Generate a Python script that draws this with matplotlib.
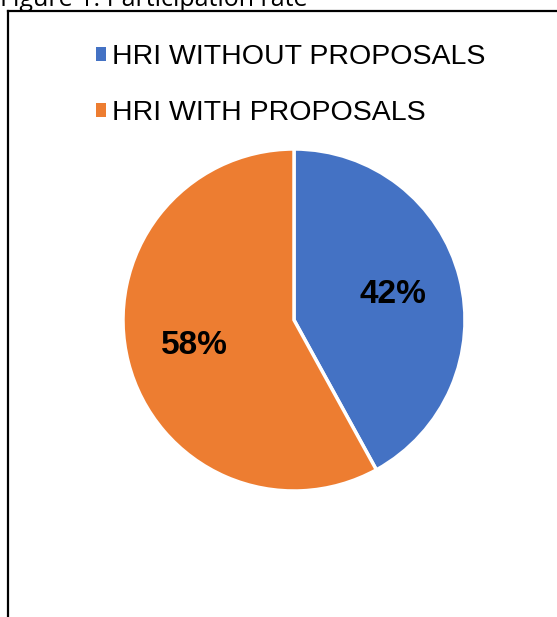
import matplotlib
matplotlib.use('Agg')
import matplotlib.pyplot as plt
from matplotlib.patches import Patch
from matplotlib.lines import Line2D

# data
labels = ['HRI WITHOUT PROPOSALS', 'HRI WITH PROPOSALS']
shares = [42, 58]
colors = ['#4472C4', '#ED7D31']
title = 'Figure 1: Participation rate'

plt.rcParams['font.family'] = ['Liberation Sans', 'DejaVu Sans']

W, H = 557, 617
fig = plt.figure(figsize=(W / 100, H / 100), dpi=100)

# title, cut off at the top like in the source
fig.text(0.0, 1 - 6 / H, title, fontsize=18, family='Open Sans', va='baseline', ha='left')

# frame around the chart (left + top only visible)
fig.add_artist(Line2D([8 / W, 8 / W], [0, 1 - 11 / H], color='black', lw=1.6, transform=fig.transFigure))
fig.add_artist(Line2D([8 / W, 1], [1 - 11 / H, 1 - 11 / H], color='black', lw=1.6, transform=fig.transFigure))

# pie
cx, cy, r = 294, 320, 171
ax = fig.add_axes([(cx - r) / W, (H - cy - r) / H, 2 * r / W, 2 * r / H])
wedges, texts, autotexts = ax.pie(shares, colors=colors, startangle=90, counterclock=False,
                                  autopct='%d%%', pctdistance=0.6,
                                  wedgeprops=dict(edgecolor='white', linewidth=2.5))
for t in autotexts:
    t.set_fontsize(24)
    t.set_fontweight('bold')
    t.set_color('black')
ax.set_xlim(-1, 1)
ax.set_ylim(-1, 1)
ax.set_aspect('equal')
ax.axis('off')

# legend
handles = [Patch(facecolor=c, edgecolor='none') for c in colors]
fig.legend(handles, labels, loc='upper left', bbox_to_anchor=(82 / W, 1 - 30 / H),
           frameon=False, fontsize=20.5, handlelength=0.35, handleheight=0.35,
           handletextpad=0.2, labelspacing=1.05, borderpad=0)

fig.savefig('out.png', dpi=100)
